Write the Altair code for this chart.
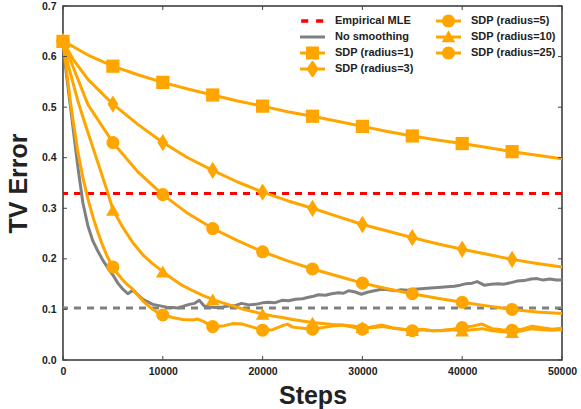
import altair as alt
import pandas as pd

ORANGE = "#FFA500"
GRAY = "#808080"
RED = "#FF0000"
INK = "#222222"
FONT = "Liberation Sans"

# Reference levels (horizontal dashed lines)
mle_level = 0.329
no_smooth_floor = 0.103

# No smoothing
ns_steps = [0, 250, 500, 750, 1000, 1250, 1500, 1750, 2000, 2500, 3000, 3500, 4000, 4500,
            5000, 5500, 6000, 6500, 7000, 7300, 8000, 8500, 9000, 9500, 10000, 10500, 11000,
            11500, 12000, 12650, 13200, 13650, 14150, 14700, 15300, 16000, 16600, 17300,
            17900, 18600, 19300, 20000, 20600, 21200, 21950, 22600, 23300, 24000, 24600,
            25100, 25600, 26300, 26900, 27600, 28100, 28600, 29200, 29900, 30500, 31200,
            31900, 32600, 33300, 33900, 34500, 35200, 35900, 36500, 37200, 37900, 38500,
            39200, 39800, 40400, 41000, 41500, 42200, 42900, 43600, 44200, 44900, 45500,
            46200, 46900, 47500, 48100, 48800, 49400, 50000]
ns_vals = [0.630, 0.580, 0.540, 0.500, 0.460, 0.420, 0.380, 0.345, 0.310, 0.265, 0.235, 0.215,
           0.197, 0.182, 0.168, 0.152, 0.140, 0.131, 0.138, 0.133, 0.120, 0.115, 0.110, 0.108,
           0.106, 0.104, 0.104, 0.103, 0.106, 0.110, 0.112, 0.118, 0.107, 0.105, 0.104, 0.105,
           0.107, 0.108, 0.112, 0.109, 0.110, 0.113, 0.114, 0.113, 0.118, 0.117, 0.120, 0.121,
           0.124, 0.126, 0.129, 0.128, 0.131, 0.133, 0.132, 0.137, 0.135, 0.130, 0.134, 0.137,
           0.140, 0.139, 0.137, 0.139, 0.138, 0.140, 0.141, 0.142, 0.143, 0.144, 0.145, 0.146,
           0.148, 0.151, 0.152, 0.155, 0.148, 0.150, 0.151, 0.150, 0.153, 0.156, 0.157, 0.160,
           0.161, 0.158, 0.160, 0.158, 0.158]

# SDP, radius = 1
r1_steps = [0, 1000, 2500, 5000, 7500, 10000, 12500, 15000, 17500, 20000, 22500, 25000,
            27500, 30000, 32500, 35000, 37500, 40000, 42500, 45000, 47500, 50000]
r1_vals = [0.630, 0.620, 0.603, 0.581, 0.564, 0.549, 0.536, 0.524, 0.512, 0.502, 0.491, 0.482,
           0.472, 0.462, 0.452, 0.443, 0.435, 0.428, 0.420, 0.412, 0.405, 0.398]

# SDP, radius = 3
r3_steps = r1_steps
r3_vals = [0.630, 0.595, 0.555, 0.506, 0.466, 0.430, 0.400, 0.375, 0.352, 0.332, 0.315, 0.300,
           0.284, 0.268, 0.255, 0.242, 0.230, 0.219, 0.209, 0.199, 0.191, 0.184]

# SDP, radius = 5
r5_steps = r1_steps
r5_vals = [0.630, 0.580, 0.505, 0.430, 0.372, 0.327, 0.290, 0.260, 0.236, 0.214, 0.196, 0.180,
           0.166, 0.152, 0.141, 0.131, 0.122, 0.114, 0.107, 0.100, 0.095, 0.092]

# SDP, radius = 10
r10_steps = [0, 500, 1000, 1500, 2000, 2500, 3000, 3500, 4000, 4500, 5000, 6000, 7000, 8000,
             9000, 10000, 11000, 12000, 13000, 14000, 15000, 16000, 17000, 18000, 19000,
             20000, 21000, 22000, 23000, 24000, 25000, 26000, 27000, 28000, 29000, 30000,
             31000, 32000, 33000, 34000, 35000, 36000, 37000, 38000, 39000, 40000, 41000,
             42000, 43000, 44000, 45000, 46000, 47000, 48000, 49000, 50000]
r10_vals = [0.630, 0.585, 0.548, 0.512, 0.480, 0.450, 0.420, 0.390, 0.360, 0.330, 0.297, 0.262,
            0.232, 0.208, 0.190, 0.175, 0.160, 0.147, 0.137, 0.128, 0.120, 0.113, 0.107, 0.101,
            0.096, 0.091, 0.087, 0.084, 0.080, 0.077, 0.074, 0.072, 0.070, 0.069, 0.067, 0.065,
            0.064, 0.066, 0.063, 0.061, 0.059, 0.060, 0.058, 0.058, 0.060, 0.058, 0.060, 0.062,
            0.058, 0.056, 0.055, 0.058, 0.062, 0.060, 0.059, 0.060]

# SDP, radius = 25
r25_steps = [0, 250, 500, 750, 1000, 1500, 2000, 2500, 3000, 3500, 4000, 4500, 5000, 5500,
             6000, 6500, 7000, 7500, 8000, 8500, 9000, 9500, 10000, 11000, 12000, 13000, 13500,
             14000, 15000, 16000, 17000, 18000, 19000, 20000, 21000, 22000, 22500, 23000,
             24000, 25000, 26000, 27000, 28000, 29000, 30000, 31000, 32000, 33000, 34000,
             35000, 36000, 37000, 38000, 39000, 40000, 41000, 42000, 43000, 44000, 45000,
             46000, 47000, 48000, 49000, 50000]
r25_vals = [0.630, 0.590, 0.550, 0.510, 0.475, 0.410, 0.360, 0.318, 0.283, 0.252, 0.225, 0.202,
            0.184, 0.170, 0.158, 0.148, 0.140, 0.128, 0.117, 0.108, 0.100, 0.094, 0.089, 0.084,
            0.080, 0.079, 0.081, 0.077, 0.066, 0.067, 0.072, 0.071, 0.065, 0.059, 0.060, 0.068,
            0.071, 0.065, 0.063, 0.061, 0.064, 0.067, 0.069, 0.065, 0.061, 0.066, 0.069, 0.064,
            0.061, 0.058, 0.061, 0.058, 0.059, 0.061, 0.064, 0.067, 0.071, 0.062, 0.060, 0.059,
            0.061, 0.067, 0.064, 0.061, 0.063]

x_ticks = [0, 10000, 20000, 30000, 40000, 50000]
y_ticks = [0.0, 0.1, 0.2, 0.3, 0.4, 0.5, 0.6, 0.7]

W, H = 499, 354

# Legend entries (filled column by column in a two-column grid)
legend_names = ["Empirical MLE", "No smoothing", "SDP (radius=1)", "SDP (radius=3)",
                "SDP (radius=5)", "SDP (radius=10)", "SDP (radius=25)"]
legend_colors = [RED, GRAY, ORANGE, ORANGE, ORANGE, ORANGE, ORANGE]

# Legend glyphs: a line segment with the series marker on it (unit = half symbol width)
BAR = "M-1.92,-0.23H1.92V0.23H-1.92Z"
DASH = "M-1.75,-0.28H-0.65V0.28H-1.75ZM0.55,-0.28H1.65V0.28H0.55Z"
SQUARE = "M-1,-1H1V1H-1Z"
CIRCLE = "M1,0A1,1,0,1,1,-1,0A1,1,0,1,1,1,0Z"
DIAMOND = "M0,-1.38L0.95,0L0,1.38L-0.95,0Z"
TRIANGLE = "M0,-1.05L1.05,0.8L-1.05,0.8Z"
legend_shapes = [DASH, BAR, BAR + SQUARE, BAR + DIAMOND, BAR + CIRCLE, BAR + TRIANGLE,
                 BAR + CIRCLE]

THIN_DIAMOND = "M0,-1L0.62,0L0,1L-0.62,0Z"

X = alt.X("step:Q", scale=alt.Scale(domain=[0, 50000], nice=False),
          axis=alt.Axis(values=x_ticks, format="d", title="Steps", labelPadding=6,
                        titlePadding=7, labelFlush=False))
Y = alt.Y("tv:Q", scale=alt.Scale(domain=[0, 0.7], nice=False),
          axis=alt.Axis(values=y_ticks, format=".1f", title="TV Error", labelPadding=7,
                        titlePadding=10, labelFlush=False))


def frame(steps, vals):
    return pd.DataFrame({"step": steps, "tv": vals})


layers = []

# Horizontal reference levels
for level, col in [(mle_level, RED), (no_smooth_floor, GRAY)]:
    layers.append(
        alt.Chart(pd.DataFrame({"tv": [level]}))
        .mark_rule(color=col, strokeWidth=3, strokeDash=[7, 6])
        .encode(y=Y)
    )

# No smoothing curve
layers.append(
    alt.Chart(frame(ns_steps, ns_vals))
    .mark_line(color=GRAY, strokeWidth=3, strokeJoin="round")
    .encode(x=X, y=Y)
)

# SDP curves with markers every 5000 steps
sdp = [
    (r1_steps, r1_vals, "square", 175),
    (r3_steps, r3_vals, THIN_DIAMOND, 300),
    (r5_steps, r5_vals, "circle", 170),
    (r10_steps, r10_vals, "triangle-up", 185),
    (r25_steps, r25_vals, "circle", 170),
]
for steps, vals, shape, size in sdp:
    base = alt.Chart(frame(steps, vals))
    layers.append(
        base.mark_line(color=ORANGE, strokeWidth=3, strokeJoin="round").encode(x=X, y=Y)
    )
    layers.append(
        base.mark_point(filled=True, opacity=1, color=ORANGE, shape=shape, size=size)
        .encode(x=X, y=Y)
        .transform_filter("datum.step % 5000 == 0 && datum.step < 50000")
    )

# Small inward ticks on all four sides
tick_style = dict(color="#444444", strokeWidth=1)
layers.append(alt.Chart(pd.DataFrame({"tv": y_ticks})).mark_rule(**tick_style)
              .encode(y=Y, x=alt.value(0), x2=alt.value(4)))
layers.append(alt.Chart(pd.DataFrame({"tv": y_ticks})).mark_rule(**tick_style)
              .encode(y=Y, x=alt.value(W - 4), x2=alt.value(W)))
layers.append(alt.Chart(pd.DataFrame({"step": x_ticks})).mark_rule(**tick_style)
              .encode(x=X, y=alt.value(H - 4), y2=alt.value(H)))
layers.append(alt.Chart(pd.DataFrame({"step": x_ticks})).mark_rule(**tick_style)
              .encode(x=X, y=alt.value(0), y2=alt.value(4)))

# Legend (driven by explicit scale domains; the layer itself draws nothing)
legend = alt.Legend(
    orient="none", legendX=237, legendY=7, columns=2, title=None,
    clipHeight=16, symbolSize=169, symbolOffset=6, labelOffset=16,
    columnPadding=22, rowPadding=0, padding=0,
    labelFont=FONT, labelFontWeight="bold", labelFontSize=11, labelColor=INK,
    symbolStrokeWidth=0, symbolOpacity=1,
)
layers.append(
    alt.Chart(pd.DataFrame({"series": legend_names}))
    .mark_point(filled=True, opacity=1)
    .encode(
        color=alt.Color("series:N", scale=alt.Scale(domain=legend_names, range=legend_colors),
                        legend=legend),
        shape=alt.Shape("series:N", scale=alt.Scale(domain=legend_names, range=legend_shapes),
                        legend=legend),
    )
    .transform_filter("false")
)

chart = (
    alt.layer(*layers)
    .properties(
        width=W, height=H,
        autosize=alt.AutoSizeParams(type="none"),
        padding={"left": 63, "top": 6, "right": 19, "bottom": 49},
        background="white",
    )
    .configure_view(stroke="#333333", strokeWidth=1.5)
    .configure_axis(
        grid=False, domain=False, ticks=False,
        labelFont=FONT, labelFontWeight="bold", labelFontSize=10.5, labelColor=INK,
        titleFont=FONT, titleFontWeight="bold", titleFontSize=25, titleColor=INK,
    )
)

chart.save("out.html", embed_options={"renderer": "svg", "actions": False})
